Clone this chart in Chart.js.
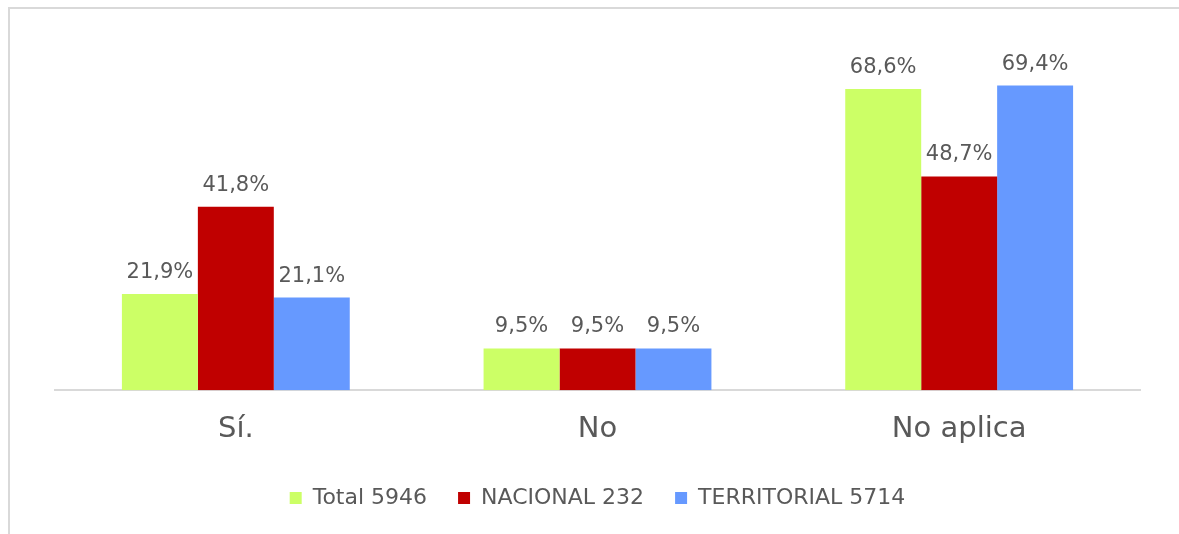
<!DOCTYPE html>
<html>
<head>
<meta charset="utf-8">
<script src="https://cdn.jsdelivr.net/npm/chart.js@4"></script>
<style>
  html, body { margin: 0; background: #fff; overflow: hidden; width: 1179px; height: 534px; }
  .frame { position: absolute; left: 8px; top: 7px; width: 1171px; height: 527px;
           border-top: 2px solid #d9d9d9; border-left: 2px solid #d9d9d9; box-sizing: border-box; }
  .wrap { position: absolute; left: 0; top: 0; width: 1179px; height: 534px; }
</style>
</head>
<body>
<div class="frame"></div>
<div class="wrap"><canvas id="barChart" width="1179" height="534"></canvas></div>
<script>
const categories = ['Sí.', 'No', 'No aplica'];
const seriesNames = ['Total 5946', 'NACIONAL 232', 'TERRITORIAL 5714'];
const totalValues = [21.9, 9.5, 68.6];
const nacionalValues = [41.8, 9.5, 48.7];
const territorialValues = [21.1, 9.5, 69.4];
const seriesColors = ['#CCFF66', '#C00000', '#6699FF'];

const fontFamily = '"DejaVu Sans", sans-serif';
const textColor = '#595959';

// draws the percentage above every bar
const barLabels = {
  id: 'barLabels',
  afterDatasetsDraw(chart) {
    const c = chart.ctx;
    c.save();
    c.font = '21px ' + fontFamily;
    c.fillStyle = textColor;
    c.textAlign = 'center';
    c.textBaseline = 'alphabetic';
    chart.data.datasets.forEach((ds, i) => {
      chart.getDatasetMeta(i).data.forEach((bar, j) => {
        const txt = ds.data[j].toFixed(1).replace('.', ',') + '%';
        c.fillText(txt, bar.x, bar.y - 16);
      });
    });
    c.restore();
  }
};

new Chart(document.getElementById('barChart').getContext('2d'), {
  type: 'bar',
  data: {
    labels: categories,
    datasets: [
      { label: seriesNames[0], data: totalValues, backgroundColor: seriesColors[0] },
      { label: seriesNames[1], data: nacionalValues, backgroundColor: seriesColors[1] },
      { label: seriesNames[2], data: territorialValues, backgroundColor: seriesColors[2] }
    ]
  },
  options: {
    responsive: false,
    animation: false,
    categoryPercentage: 0.63,
    barPercentage: 1,
    layout: { padding: { left: 55, right: 39, top: 39, bottom: 15 } },
    plugins: {
      legend: {
        position: 'bottom',
        labels: {
          boxWidth: 12,
          boxHeight: 12,
          padding: 31,
          color: textColor,
          font: { family: fontFamily, size: 22 }
        }
      },
      tooltip: { enabled: false }
    },
    scales: {
      x: {
        grid: { display: false },
        border: { display: true, color: '#d9d9d9', width: 2 },
        ticks: {
          color: textColor,
          padding: 14,
          font: { family: fontFamily, size: 29 }
        },
        afterFit(axis) { axis.height = axis.height - 5; }
      },
      y: {
        display: false,
        min: 0,
        max: 80
      }
    }
  },
  plugins: [barLabels]
});
</script>
</body>
</html>
